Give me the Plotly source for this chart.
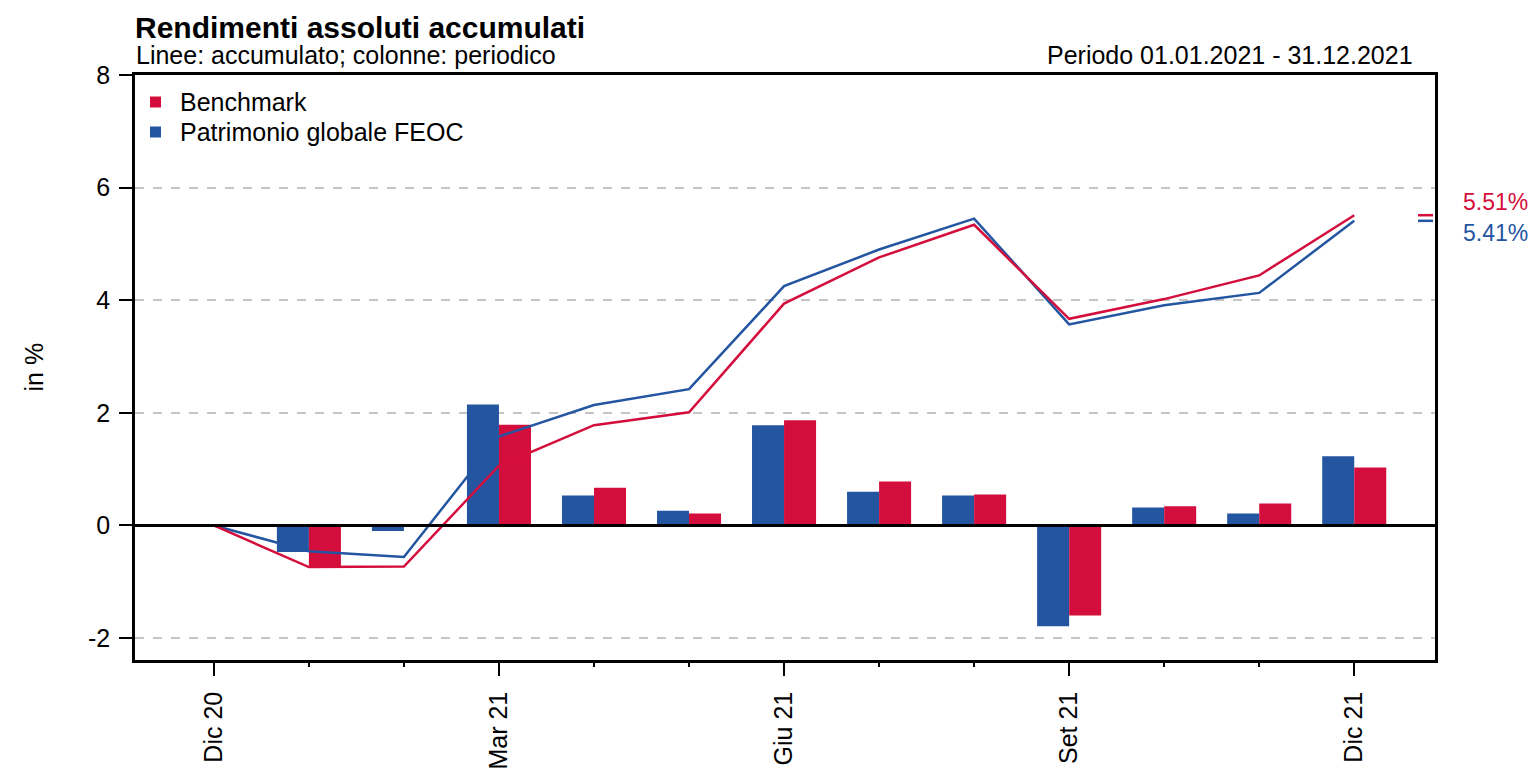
import plotly.graph_objects as go

# ---- data ----
months = ["Dic 20", "Gen 21", "Feb 21", "Mar 21", "Apr 21", "Mag 21", "Giu 21",
          "Lug 21", "Ago 21", "Set 21", "Ott 21", "Nov 21", "Dic 21"]
month_idx = list(range(len(months)))
major_ticks = [0, 3, 6, 9, 12]
major_labels = ["Dic 20", "Mar 21", "Giu 21", "Set 21", "Dic 21"]
y_ticks = [-2, 0, 2, 4, 6, 8]
y_labels = ["-2", "0", "2", "4", "6", "8"]

bench_cum = [0.0, -0.74, -0.73, 1.06, 1.78, 2.01, 3.94, 4.76, 5.34, 3.67, 4.02, 4.44, 5.51]
fund_cum = [0.0, -0.46, -0.56, 1.58, 2.14, 2.42, 4.25, 4.90, 5.45, 3.57, 3.91, 4.13, 5.41]

bench_per = [-0.75, 0.0, 1.79, 0.67, 0.21, 1.87, 0.78, 0.55, -1.60, 0.34, 0.39, 1.03]
fund_per = [-0.47, -0.10, 2.15, 0.53, 0.26, 1.78, 0.60, 0.53, -1.79, 0.32, 0.21, 1.23]

legend_names = ["Benchmark", "Patrimonio globale FEOC"]

RED = "#D40E3C"
BLUE = "#2355A0"
FONT = "Liberation Sans, Arial, sans-serif"
FS = 25

# page has an 8px body margin at top-left
OFF = 8
FIG_W, FIG_H = 1537 - OFF, 771 - OFF
# plot area in screen px
PL, PR, PT, PB = 135, 1435, 75, 660


def xp(X):
    return (X - PL) / (PR - PL)


def yp(Y):
    return (PB - Y) / (PB - PT)


fig = go.Figure()

# bars (periodic)
fig.add_trace(go.Bar(x=month_idx[1:], y=fund_per, marker=dict(color=BLUE, line=dict(width=0)),
                     showlegend=False, hoverinfo="skip"))
fig.add_trace(go.Bar(x=month_idx[1:], y=bench_per, marker=dict(color=RED, line=dict(width=0)),
                     showlegend=False, hoverinfo="skip"))

# lines (cumulative)
fig.add_trace(go.Scatter(x=month_idx, y=fund_cum, mode="lines", line=dict(color=BLUE, width=2.5),
                         showlegend=False, hoverinfo="skip"))
fig.add_trace(go.Scatter(x=month_idx, y=bench_cum, mode="lines", line=dict(color=RED, width=2.5),
                         showlegend=False, hoverinfo="skip"))

# zero line
fig.add_hline(y=0, line=dict(color="black", width=3), layer="above")

# manual legend
for i, (name, col) in enumerate(zip(legend_names, [RED, BLUE])):
    cy = 102 + 30 * i
    fig.add_shape(type="rect", xref="paper", yref="paper",
                  x0=xp(150), x1=xp(161), y0=yp(cy - 5.5), y1=yp(cy + 5.5),
                  fillcolor=col, line=dict(width=0))
    fig.add_annotation(xref="paper", yref="paper", x=xp(178), y=yp(cy), text=name,
                       showarrow=False, xanchor="left", yanchor="middle",
                       font=dict(family=FONT, size=FS, color="black"))

# end value stubs + labels
for val, col in [(bench_cum[-1], RED), (fund_cum[-1], BLUE)]:
    fig.add_shape(type="line", xref="paper", yref="y", x0=xp(1418), x1=xp(1433), y0=val, y1=val,
                  line=dict(color=col, width=2.5))
fig.add_annotation(xref="paper", yref="y", x=xp(1461), y=bench_cum[-1] + 0.23, text=f"{bench_cum[-1]:.2f}%",
                   showarrow=False, xanchor="left", yanchor="middle", font=dict(family=FONT, size=23, color=RED))
fig.add_annotation(xref="paper", yref="y", x=xp(1461), y=fund_cum[-1] - 0.22, text=f"{fund_cum[-1]:.2f}%",
                   showarrow=False, xanchor="left", yanchor="middle", font=dict(family=FONT, size=23, color=BLUE))

# titles
fig.add_annotation(xref="paper", yref="paper", x=xp(133), y=yp(27), text="<b>Rendimenti assoluti accumulati</b>",
                   showarrow=False, xanchor="left", yanchor="middle", font=dict(family=FONT, size=30, color="black"))
fig.add_annotation(xref="paper", yref="paper", x=xp(134), y=yp(55), text="Linee: accumulato; colonne: periodico",
                   showarrow=False, xanchor="left", yanchor="middle", font=dict(family=FONT, size=FS, color="black"))
fig.add_annotation(xref="paper", yref="paper", x=xp(1415), y=yp(55), text="Periodo 01.01.2021 - 31.12.2021",
                   showarrow=False, xanchor="right", yanchor="middle", font=dict(family=FONT, size=FS, color="black"))
fig.add_annotation(xref="paper", yref="paper", x=xp(33), y=0.5, text="in %", textangle=-90,
                   showarrow=False, xanchor="center", yanchor="middle", font=dict(family=FONT, size=FS, color="black"))

fig.update_layout(
    width=FIG_W, height=FIG_H,
    margin=dict(l=PL - OFF, r=(FIG_W + OFF) - PR, t=PT - OFF, b=(FIG_H + OFF) - PB, pad=0, autoexpand=False),
    paper_bgcolor="white", plot_bgcolor="white",
    barmode="group", bargap=0.326, bargroupgap=0,
    font=dict(family=FONT, size=FS, color="black"),
    showlegend=False,
)

fig.update_xaxes(
    range=[-0.83, 12.85], tickmode="array", tickvals=major_ticks, ticktext=major_labels,
    tickangle=-90, ticks="outside", ticklen=13, tickwidth=2, tickcolor="black",
    showgrid=False, zeroline=False, showline=True, linecolor="black", linewidth=2.5, mirror=True,
    minor=dict(dtick=1, tick0=0, ticks="outside", ticklen=4, tickwidth=2, tickcolor="black", showgrid=False),
    tickfont=dict(family=FONT, size=FS), ticklabelstandoff=6, automargin=False,
)
fig.update_yaxes(
    range=[-2.39, 8.0], tickmode="array", tickvals=y_ticks, ticktext=y_labels,
    ticks="outside", ticklen=13, tickwidth=2, tickcolor="black",
    showgrid=True, gridcolor="#c4c4c4", griddash="dash", gridwidth=1.5,
    zeroline=False, showline=True, linecolor="black", linewidth=2.5, mirror=True,
    tickfont=dict(family=FONT, size=FS), ticklabelstandoff=4, automargin=False,
)

fig.write_html("out.html")
